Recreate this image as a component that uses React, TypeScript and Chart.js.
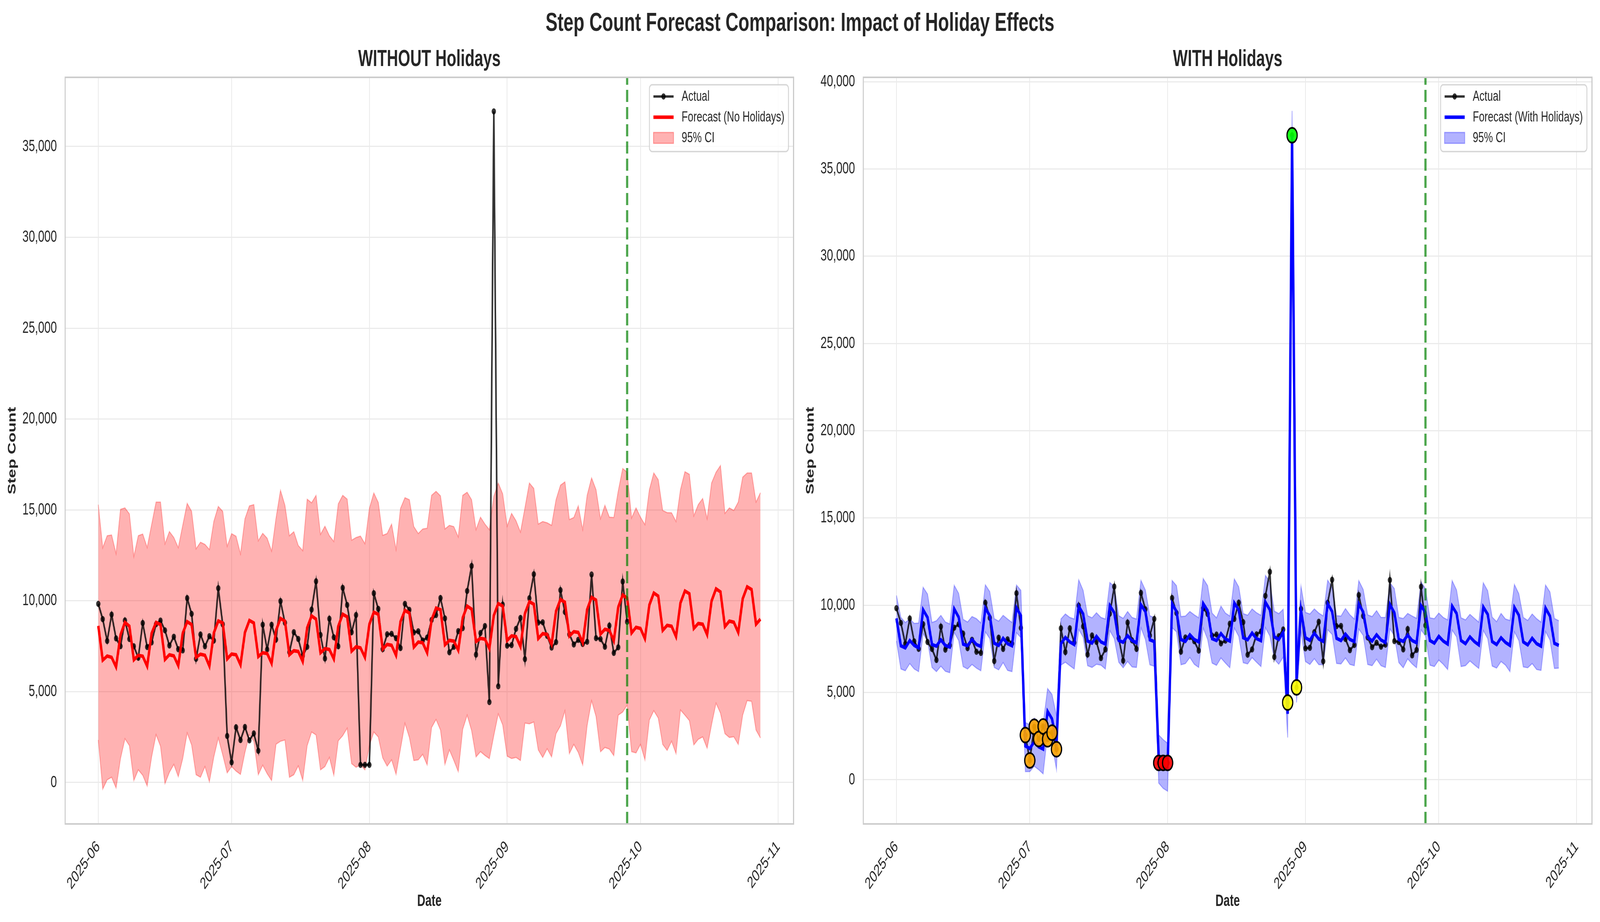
import { useEffect, useRef } from "react"
import { Chart, registerables } from "chart.js"

Chart.register(...registerables)

// ---- data -------------------------------------------------------------
const START_DATE = "2025-06-01"
const FORECAST_START = "2025-09-28"
const monthTicks = ["2025-06", "2025-07", "2025-08", "2025-09", "2025-10", "2025-11"]
const stepTicksLeft = [0, 5000, 10000, 15000, 20000, 25000, 30000, 35000]
const stepTicksRight = [0, 5000, 10000, 15000, 20000, 25000, 30000, 35000, 40000]

// daily actual step counts, 2025-06-01 .. 2025-09-28
const actualSteps = [
  9830, 8990, 7790, 9240, 7930, 7500, 8915, 7895, 7495, 6865,
  8775, 7455, 7710, 8715, 8910, 8375, 7540, 8020, 7335, 7270,
  10145, 9280, 6805, 8145, 7495, 8050, 7810, 10690, 8700, 2560,
  1110, 3040, 2335, 3055, 2320, 2700, 1750, 8680, 7320, 8680,
  7870, 9980, 8790, 7175, 8270, 7900, 6970, 7465, 9515, 11070,
  8120, 6825, 9010, 7990, 7495, 10710, 9770, 8270, 9215, 970,
  970, 970, 10415, 9555, 7340, 8155, 8180, 7940, 7400, 9830,
  9500, 8260, 8320, 7815, 7975, 8945, 9215, 10150, 9030, 7165,
  7470, 8330, 8495, 10540, 11915, 7040, 8225, 8610, 4425, 36930,
  5295, 9790, 7530, 7560, 8455, 9055, 6790, 10140, 11460, 8800,
  8815, 8070, 7425, 7725, 10585, 9385, 8155, 7595, 7850, 7625,
  7745, 11445, 7945, 7895, 7470, 8635, 7130, 7440, 11060, 8845,
]

// forecast without holidays, 2025-06-01 .. 2025-10-28
const forecastNoHol = [
  8620, 6730, 6960, 6890, 6360, 8120, 8810, 8600, 6750, 7000,
  6950, 6400, 8210, 8810, 8690, 6770, 7030, 6970, 6430, 8210,
  8850, 8690, 6890, 7060, 7000, 6410, 8230, 8890, 8780, 6800,
  7070, 7030, 6480, 8260, 8920, 8780, 6930, 7140, 7100, 6560,
  8370, 9030, 8880, 7030, 7250, 7210, 6660, 8510, 9170, 8990,
  7140, 7370, 7320, 6800, 8600, 9260, 9120, 7230, 7470, 7410,
  6890, 8710, 9370, 9260, 7340, 7600, 7550, 7000, 8850, 9470,
  9330, 7450, 7730, 7690, 7140, 8950, 9600, 9510, 7580, 7820,
  7780, 7280, 9060, 9710, 9540, 7760, 7930, 7890, 7370, 9190,
  9850, 9710, 7820, 8070, 8030, 7480, 9300, 9950, 9810, 7920,
  8190, 8150, 7600, 9430, 10070, 9920, 8060, 8300, 8260, 7690,
  9520, 10190, 10040, 8170, 8430, 8370, 7800, 9650, 10320, 10150,
  8230, 8540, 8480, 7920, 9770, 10430, 10260, 8370, 8650, 8600,
  8030, 9880, 10540, 10390, 8480, 8750, 8710, 8140, 9990, 10660,
  10490, 8580, 8880, 8820, 8260, 10110, 10770, 10620, 8710, 8990,
]
const upperNoHol = [
  15290, 12920, 13580, 13620, 12590, 15030, 15110, 14780, 12430, 13580,
  13670, 12930, 14190, 15430, 15430, 13130, 13810, 13480, 12920, 14150,
  15360, 14920, 12860, 13220, 13100, 12820, 14370, 15190, 14920, 12990,
  13690, 13550, 12580, 14510, 15220, 15290, 13300, 13710, 13440, 12730,
  14560, 16080, 15250, 13580, 13800, 13040, 12760, 15590, 15390, 15800,
  13650, 14100, 13580, 13260, 15330, 15800, 15590, 13330, 13480, 13560,
  13140, 15080, 15930, 15410, 13600, 13700, 14220, 12820, 15080, 15670,
  15560, 14080, 13700, 13950, 13990, 15800, 16020, 15770, 13950, 14150,
  14080, 13510, 15800, 15970, 15560, 13910, 14600, 14220, 13910, 15740,
  16480, 15880, 14100, 14810, 14400, 13780, 15110, 16480, 16180, 14220,
  14360, 14290, 14150, 15560, 16360, 16540, 14470, 14580, 15220, 13920,
  15800, 16760, 16110, 14510, 15250, 14600, 14580, 16040, 17280, 17070,
  14560, 15110, 14600, 14190, 16110, 17030, 16660, 14970, 14850, 14840,
  14360, 16110, 17100, 16960, 14670, 15290, 15630, 14510, 16480, 17070,
  17440, 14810, 15110, 14970, 15430, 16800, 17030, 17030, 15430, 15950,
]
const lowerNoHol = [
  2340, -360, 150, 290, -300, 1320, 2410, 2030, 110, 700,
  400, -190, 1410, 2640, 2000, -60, 560, 1000, 320, 1320,
  2730, 2070, 430, 290, 880, 40, 1410, 2450, 1520, 530,
  880, 630, 450, 1660, 2640, 2270, 430, 950, 490, 110,
  2110, 2270, 2340, 290, 430, 920, 120, 2030, 2780, 2620,
  700, 880, 1380, 400, 2300, 2580, 2990, 1040, 840, 970,
  700, 2040, 2780, 2510, 1360, 900, 1250, 450, 1860, 3260,
  2480, 1210, 1250, 1550, 970, 3030, 3470, 2890, 1000, 1800,
  1220, 600, 2930, 3710, 2860, 1410, 1700, 1490, 1320, 2590,
  3780, 3170, 1450, 1320, 1380, 1210, 3270, 3230, 3330, 1800,
  1380, 1860, 1410, 2690, 3120, 3950, 1590, 2100, 1660, 970,
  3140, 4510, 3640, 1690, 1930, 1840, 1480, 3710, 3880, 4260,
  1700, 1630, 2100, 1250, 3440, 3950, 3550, 2100, 1770, 2270,
  1590, 3990, 3710, 3410, 2070, 2380, 2510, 1890, 3190, 4370,
  3820, 2690, 2480, 2520, 2100, 3710, 4510, 4470, 2890, 2450,
]

// forecast with holiday regressors
const forecastHol = [
  9250, 7680, 7560, 7980, 7700, 7560, 9740, 9300, 7750, 7660,
  8020, 7700, 7610, 9790, 9320, 7770, 7680, 8040, 7750, 7640,
  9840, 9400, 7830, 7700, 8110, 7800, 7680, 9860, 9400, 1940,
  1790, 2180, 1890, 1760, 3920, 3490, 2130, 7800, 8160, 7900,
  7750, 9950, 9500, 7950, 7830, 8220, 7900, 7780, 9980, 9570,
  7990, 7880, 8260, 7980, 7850, 10030, 9640, 8020, 7920, 1190,
  910, 720, 10100, 9640, 8040, 7930, 8310, 8040, 7900, 10100,
  9690, 8090, 7980, 8380, 8070, 7950, 10130, 9740, 8140, 8020,
  8410, 8090, 7970, 10180, 9740, 8190, 8040, 8450, 3780, 36900,
  5740, 9710, 8140, 7990, 8400, 8070, 7930, 10100, 9640, 8110,
  7980, 8350, 8040, 7920, 10080, 9610, 8170, 7950, 8310, 8010,
  7870, 10050, 9570, 8040, 7930, 8290, 7980, 7850, 9980, 9590,
  7980, 7830, 8220, 7950, 7780, 9950, 9530, 7980, 7800, 8190,
  7920, 7730, 9900, 9480, 7920, 7750, 8140, 7870, 7700, 9880,
  9430, 7900, 7730, 8110, 7800, 7660, 9840, 9380, 7820, 7700,
]
const upperHol = [
  10560, 9300, 9010, 9210, 8960, 8980, 11030, 10640, 9010, 9110,
  9420, 9040, 8930, 11140, 10680, 9190, 9040, 9350, 9230, 8990,
  11170, 10780, 9230, 9090, 9420, 9210, 9010, 11160, 10850, 3280,
  3150, 3540, 3280, 3200, 5230, 4890, 3680, 9210, 9500, 9300,
  9210, 11460, 10850, 9400, 9280, 9570, 9300, 9210, 11300, 11070,
  9400, 9250, 9640, 9300, 9210, 11430, 10870, 9400, 9280, 2570,
  2300, 2090, 11420, 11120, 9350, 9380, 9640, 9450, 9280, 11530,
  11120, 9550, 9280, 9950, 9550, 9380, 11510, 11050, 9520, 9430,
  9790, 9570, 9420, 11710, 11340, 9660, 9520, 9770, 5100, 38330,
  7050, 11100, 9590, 9500, 9790, 9550, 9390, 11440, 11020, 9400,
  9380, 9810, 9450, 9210, 11410, 10900, 9450, 9350, 9690, 9300,
  9300, 11290, 10950, 9300, 9240, 9530, 9380, 9250, 11340, 10950,
  9280, 9230, 9550, 9300, 9160, 11410, 10870, 9280, 9160, 9480,
  9250, 9030, 11290, 10830, 9320, 9060, 9530, 9210, 9130, 11190,
  10660, 9300, 9130, 9500, 9230, 9030, 11160, 10760, 9240, 9110,
]
const lowerHol = [
  7950, 6350, 6250, 6660, 6350, 6200, 8380, 7950, 6440, 6200,
  6510, 6220, 6140, 8450, 7980, 6490, 6350, 6610, 6400, 6250,
  8480, 8090, 6440, 6300, 6720, 6270, 6200, 8430, 8140, 470,
  470, 780, 580, 340, 2620, 2080, 590, 6570, 6740, 6540,
  6350, 8620, 8170, 6540, 6440, 6620, 6570, 6350, 8550, 8090,
  6740, 6420, 6780, 6470, 6440, 8720, 8040, 6590, 6510, -190,
  -490, -650, 8720, 8480, 6590, 6660, 7010, 6620, 6440, 8700,
  8040, 6690, 6560, 6980, 6690, 6420, 8700, 8220, 6710, 6640,
  7000, 6740, 6490, 8720, 8240, 6910, 6620, 7030, 2420, 35470,
  4430, 8480, 6780, 6610, 6940, 6600, 6600, 8600, 8330, 6670,
  6640, 6980, 6610, 6540, 8640, 8270, 6610, 6540, 6910, 6540,
  6440, 8650, 8260, 6720, 6420, 6930, 6640, 6420, 8600, 8240,
  6570, 6490, 6860, 6620, 6320, 8580, 8190, 6490, 6540, 6810,
  6590, 6380, 8560, 8090, 6520, 6400, 6780, 6570, 6200, 8480,
  7980, 6470, 6420, 6660, 6320, 6270, 8500, 8010, 6380, 6400,
]

// highlighted holiday days (right panel)
const summerHolidays = ["2025-06-30", "2025-07-01", "2025-07-02", "2025-07-03", "2025-07-04", "2025-07-05", "2025-07-06", "2025-07-07"]
const travelDays = ["2025-07-30", "2025-07-31", "2025-08-01"]
const eventEdges = ["2025-08-28", "2025-08-30"]
const eventPeak = ["2025-08-29"]

// ---- helpers ----------------------------------------------------------
const FONT = '"Liberation Sans", Arial, Helvetica, sans-serif'
const INK = "#262626"
const GRID = "#ebebeb"
const DAY = 86400000
const X_MIN = -7.45
const X_MAX = 156.45
// design size of the figure; it is stretched to fill the viewport
const FIG_W = 5966
const FIG_H = 2360
const PANEL_W = FIG_W / 2

const dayIndex = (d: string) => Math.round((Date.parse(d + "T00:00:00Z") - Date.parse(START_DATE + "T00:00:00Z")) / DAY)
const xy = (vals: number[]) => vals.map((y, i) => ({ x: i, y }))
const markerPoints = (dates: string[]) => dates.map((d) => ({ x: dayIndex(d), y: actualSteps[dayIndex(d)] }))

type LegendItem = { label: string; kind: "line" | "patch"; color: string; width?: number; marker?: boolean }

type Panel = {
  title: string
  forecastLabel: string
  forecast: number[]
  upper: number[]
  lower: number[]
  line: string
  band: string
  yMin: number
  yMax: number
  yTicks: number[]
  yWidth: number
  yTitlePad: number
  rightPad: number
  markers: { dates: string[]; color: string }[]
}

const framePlugin = {
  id: "frame",
  afterDatasetsDraw(chart: Chart) {
    const { ctx, chartArea: a } = chart
    ctx.save()
    ctx.strokeStyle = "#cccccc"
    ctx.lineWidth = 4
    ctx.strokeRect(a.left, a.top, a.right - a.left, a.bottom - a.top)
    ctx.restore()
  },
}

// matplotlib-like legend box in the upper right corner of the plot
function legendPlugin(items: LegendItem[]) {
  return {
    id: "boxLegend",
    afterDatasetsDraw(chart: Chart) {
      const { ctx, chartArea: a } = chart
      const fs = 37.5
      ctx.save()
      ctx.font = `${fs}px ${FONT}`
      const textW = Math.max(...items.map((i) => ctx.measureText(i.label).width))
      const pad = 0.4 * fs
      const handle = 2 * fs
      const gap = 0.8 * fs
      const w = pad * 2 + handle + gap + textW
      const h = 171
      const right = a.right - 19
      const top = a.top + 19
      const left = right - w
      ctx.beginPath()
      ctx.roundRect(left, top, w, h, 10)
      ctx.fillStyle = "rgba(255,255,255,0.8)"
      ctx.fill()
      ctx.strokeStyle = "rgba(204,204,204,0.8)"
      ctx.lineWidth = 3.5
      ctx.stroke()
      items.forEach((it, i) => {
        const cy = top + 30 + i * 53
        const hx = left + pad
        if (it.kind === "line") {
          ctx.strokeStyle = it.color
          ctx.lineWidth = it.width ?? 6
          ctx.beginPath()
          ctx.moveTo(hx, cy)
          ctx.lineTo(hx + handle, cy)
          ctx.stroke()
          if (it.marker) {
            ctx.fillStyle = it.color
            ctx.beginPath()
            ctx.arc(hx + handle / 2, cy, 8, 0, Math.PI * 2)
            ctx.fill()
          }
        } else {
          ctx.fillStyle = it.color
          ctx.fillRect(hx, cy - 14, handle, 28)
          ctx.strokeStyle = it.color
          ctx.lineWidth = 3
          ctx.strokeRect(hx, cy - 14, handle, 28)
        }
        ctx.fillStyle = INK
        ctx.textAlign = "left"
        ctx.textBaseline = "middle"
        ctx.fillText(it.label, hx + handle + gap, cy + 1)
      })
      ctx.restore()
    },
  }
}

function makeChart(canvas: HTMLCanvasElement, p: Panel) {
  const split = dayIndex(FORECAST_START)
  const datasets: any[] = [
    {
      label: "Forecast start",
      data: [{ x: split, y: p.yMin }, { x: split, y: p.yMax }],
      borderColor: "rgba(0,128,0,0.7)",
      borderWidth: 8,
      borderDash: [31, 13],
      pointRadius: 0,
      order: 0,
    },
    ...p.markers.map((m) => ({
      label: "Holiday",
      data: markerPoints(m.dates),
      showLine: false,
      pointRadius: 19,
      pointBackgroundColor: m.color,
      pointBorderColor: "#000",
      pointBorderWidth: 4.5,
      order: 1,
    })),
    {
      label: p.forecastLabel,
      data: xy(p.forecast),
      borderColor: p.line,
      borderWidth: 9,
      pointRadius: 0,
      order: 2,
    },
    {
      label: "Actual",
      data: xy(actualSteps),
      borderColor: "rgba(0,0,0,0.8)",
      borderWidth: 6,
      pointRadius: 8,
      pointBackgroundColor: "rgba(0,0,0,0.8)",
      pointBorderWidth: 0,
      order: 3,
    },
    {
      label: "95% CI",
      data: xy(p.upper),
      borderColor: p.band,
      backgroundColor: p.band,
      borderWidth: 3,
      pointRadius: 0,
      fill: "+1",
      order: 4,
    },
    {
      label: "95% CI lower",
      data: xy(p.lower),
      borderColor: p.band,
      borderWidth: 3,
      pointRadius: 0,
      fill: false,
      order: 5,
    },
  ]

  return new Chart(canvas, {
    type: "line",
    data: { datasets },
    options: {
      responsive: false,
      devicePixelRatio: 1,
      animation: false,
      layout: { padding: { left: 0, right: p.rightPad, top: 0, bottom: 0 } },
      plugins: {
        legend: { display: false },
        tooltip: { enabled: false },
        title: {
          display: true,
          text: p.title,
          fullSize: false,
          color: INK,
          font: { family: FONT, size: 58.3, weight: "bold", lineHeight: 1.2 },
          padding: { top: 118, bottom: 10 },
        },
      },
      scales: {
        x: {
          type: "linear",
          min: X_MIN,
          max: X_MAX,
          afterBuildTicks: (s: any) => {
            s.ticks = monthTicks.map((m) => ({ value: dayIndex(m + "-01") }))
          },
          afterFit: (s: any) => {
            s.height = 251
          },
          ticks: {
            autoSkip: false,
            minRotation: 45,
            maxRotation: 45,
            padding: 34,
            color: INK,
            font: { family: FONT, size: 42 },
            callback: (_v: any, i: number) => monthTicks[i],
          },
          grid: { color: GRID, lineWidth: 3, drawTicks: false },
          border: { display: false },
          title: {
            display: true,
            text: "Date",
            color: INK,
            font: { family: FONT, size: 42, weight: "bold" },
            padding: { top: 0, bottom: 27 },
          },
        },
        y: {
          type: "linear",
          min: p.yMin,
          max: p.yMax,
          afterBuildTicks: (s: any) => {
            s.ticks = p.yTicks.map((v) => ({ value: v }))
          },
          afterFit: (s: any) => {
            s.width = p.yWidth
          },
          ticks: {
            padding: 31,
            color: INK,
            font: { family: FONT, size: 42 },
            callback: (v: any) => Number(v).toLocaleString("en-US"),
          },
          grid: { color: GRID, lineWidth: 3, drawTicks: false },
          border: { display: false },
          title: {
            display: true,
            text: "Step Count",
            color: INK,
            font: { family: FONT, size: 42, weight: "bold" },
            padding: { top: p.yTitlePad, bottom: 0 },
          },
        },
      },
    },
    plugins: [
      framePlugin,
      legendPlugin([
        { label: "Actual", kind: "line", color: "rgba(0,0,0,0.8)", width: 6, marker: true },
        { label: p.forecastLabel, kind: "line", color: p.line, width: 9 },
        { label: "95% CI", kind: "patch", color: p.band },
      ]),
    ],
  } as any)
}

const withoutHolidays: Panel = {
  title: "WITHOUT Holidays",
  forecastLabel: "Forecast (No Holidays)",
  forecast: forecastNoHol,
  upper: upperNoHol,
  lower: lowerNoHol,
  line: "#ff0000",
  band: "rgba(255,0,0,0.3)",
  yMin: -2280,
  yMax: 38805,
  yTicks: stepTicksLeft,
  yWidth: 243,
  yTitlePad: 21,
  rightPad: 24,
  markers: [],
}

const withHolidays: Panel = {
  title: "WITH Holidays",
  forecastLabel: "Forecast (With Holidays)",
  forecast: forecastHol,
  upper: upperHol,
  lower: lowerHol,
  line: "#0000ff",
  band: "rgba(0,0,255,0.3)",
  yMin: -2530,
  yMax: 40250,
  yTicks: stepTicksRight,
  yWidth: 236,
  yTitlePad: 14,
  rightPad: 30,
  markers: [
    { dates: summerHolidays, color: "rgba(255,165,0,0.9)" },
    { dates: travelDays, color: "rgba(255,0,0,0.9)" },
    { dates: eventEdges, color: "rgba(255,255,0,0.9)" },
    { dates: eventPeak, color: "rgba(0,255,0,0.9)" },
  ],
}

export default function App() {
  const leftRef = useRef<HTMLCanvasElement>(null)
  const rightRef = useRef<HTMLCanvasElement>(null)
  // the figure is laid out at 5966x2360 and stretched to the viewport
  const sx = window.innerWidth / FIG_W
  const sy = window.innerHeight / FIG_H

  useEffect(() => {
    if (!leftRef.current || !rightRef.current) return
    const charts = [makeChart(leftRef.current, withoutHolidays), makeChart(rightRef.current, withHolidays)]
    return () => charts.forEach((c) => c.destroy())
  }, [])

  return (
    <div style={{ position: "fixed", left: 0, top: 0, right: 0, bottom: 0, overflow: "hidden", background: "#fff" }}>
      <div
        style={{
          position: "absolute",
          left: 0,
          top: 0,
          width: FIG_W,
          height: FIG_H,
          transform: `scale(${sx}, ${sy})`,
          transformOrigin: "0 0",
        }}
      >
        <div
          style={{
            position: "absolute",
            left: 0,
            top: 23,
            width: FIG_W,
            textAlign: "center",
            fontFamily: FONT,
            fontWeight: "bold",
            fontSize: 66.7,
            lineHeight: "66.7px",
            color: INK,
            whiteSpace: "nowrap",
          }}
        >
          Step Count Forecast Comparison: Impact of Holiday Effects
        </div>
        <canvas
          ref={leftRef}
          width={PANEL_W}
          height={FIG_H}
          style={{ position: "absolute", left: 0, top: 0, width: PANEL_W, height: FIG_H }}
        />
        <canvas
          ref={rightRef}
          width={PANEL_W}
          height={FIG_H}
          style={{ position: "absolute", left: PANEL_W, top: 0, width: PANEL_W, height: FIG_H }}
        />
      </div>
    </div>
  )
}
